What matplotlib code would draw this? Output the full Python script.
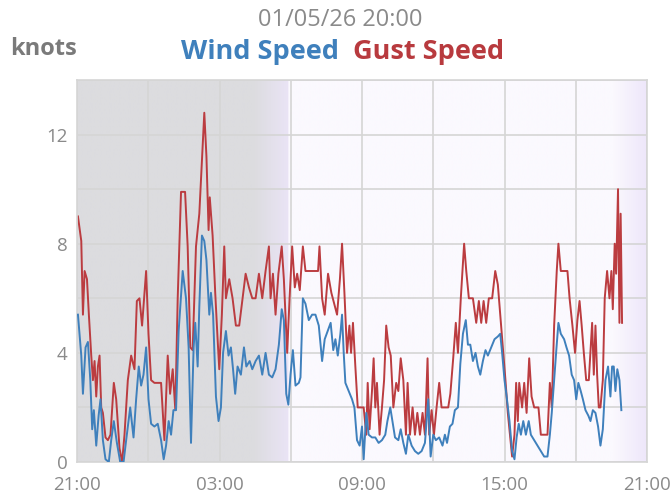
import matplotlib
matplotlib.use("Agg")
import matplotlib.pyplot as plt
import numpy as np
from matplotlib.colors import LinearSegmentedColormap

plt.rcParams['font.family'] = ['Open Sans', 'DejaVu Sans']

# hours since 21:00
gust_t = [0.04, 0.18, 0.25, 0.32, 0.42, 0.50, 0.60, 0.67, 0.74, 0.81, 0.88, 0.95, 1.02, 1.09, 1.20,
          1.30, 1.41, 1.55, 1.65, 1.79, 1.90, 2.00, 2.14, 2.28, 2.42, 2.52, 2.63, 2.74, 2.91, 3.01,
          3.12, 3.26, 3.40, 3.54, 3.68, 3.82, 3.92, 4.03, 4.14, 4.24, 4.38, 4.55, 4.66, 4.77, 4.87,
          5.01, 5.15, 5.26, 5.36, 5.45, 5.54, 5.59, 5.71, 5.82, 5.92, 5.99, 6.10, 6.20, 6.27, 6.41,
          6.55, 6.69, 6.83, 6.97, 7.10, 7.24, 7.38, 7.52, 7.66, 7.80, 7.94, 8.08, 8.15, 8.25, 8.36,
          8.48, 8.62, 8.71, 8.85, 8.95, 9.06, 9.17, 9.27, 9.38, 9.51, 9.62, 9.90, 10.15, 10.21, 10.32,
          10.43, 10.57, 10.71,
          10.95, 11.07, 11.16, 11.26, 11.37, 11.47, 11.54, 11.62, 11.72, 11.82, 11.93, 12.07, 12.18,
          12.24, 12.32, 12.42, 12.49, 12.56, 12.63, 12.74, 12.84, 12.93, 13.02, 13.12, 13.21, 13.32,
          13.44, 13.53, 13.63, 13.74, 13.85, 13.92, 14.02, 14.13, 14.23, 14.33, 14.44, 14.55, 14.65,
          14.76, 14.83, 14.93, 15.03, 15.14, 15.25, 15.35, 15.49, 15.63, 15.72, 15.84, 15.95, 16.04,
          16.16, 16.23, 16.30, 16.39, 16.50, 16.67, 16.81, 16.92, 17.02, 17.12, 17.23, 17.34, 17.48,
          17.61, 17.72, 17.82, 17.93, 18.04, 18.14, 18.23, 18.32, 18.42, 18.49, 18.56, 18.62, 18.74,
          18.83, 18.93, 19.04, 19.14, 19.25, 19.43, 19.53, 19.67, 19.81, 19.91, 19.99, 20.09, 20.20,
          20.27, 20.37, 20.51, 20.65, 20.74, 20.86, 20.97, 21.07, 21.16, 21.25, 21.34, 21.44, 21.55,
          21.69, 21.76, 21.83, 21.90, 21.97, 22.04, 22.14, 22.22, 22.32, 22.42, 22.50, 22.56, 22.64,
          22.70, 22.78, 22.84, 22.89, 22.95]
gust_v = [9.0, 8.1, 5.4, 7.0, 6.7, 5.4, 3.9, 3.0, 3.7, 2.4, 3.5, 3.9, 2.0, 1.8, 0.9,
          0.8, 1.0, 2.9, 2.3, 0.5, 0.0, 1.0, 3.0, 3.9, 3.4, 5.9, 6.0, 5.0, 7.0, 4.7,
          3.0, 2.9, 2.9, 2.9, 0.8, 3.9, 2.5, 3.4, 1.9, 6.0, 9.9, 9.9, 7.9, 4.2, 4.1,
          7.9, 9.1, 11.0, 12.8, 11.2, 8.5, 9.7, 8.3, 6.2, 4.5, 3.4, 5.4, 7.9, 6.0, 6.7,
          6.0, 5.0, 5.0, 6.0, 6.9, 6.4, 6.0, 6.0, 6.9, 6.0, 7.0, 7.9, 6.0, 6.9, 5.4,
          6.9, 7.9, 6.7, 4.0, 6.0, 7.9, 6.4, 6.9, 6.3, 7.9, 7.0, 7.0, 7.0, 7.9, 6.0,
          5.4, 6.9, 6.2,
          5.4, 6.7, 8.0, 6.2, 4.0, 5.0, 4.0, 5.1, 3.5, 2.0, 2.0, 2.0, 1.0,
          2.9, 1.2, 2.6, 3.8, 2.0, 2.9, 1.0, 2.0, 3.0, 5.0, 4.2, 3.9, 2.0,
          2.9, 2.6, 3.8, 3.0, 1.0, 2.9, 1.0, 2.0, 1.0, 1.8, 1.0, 1.8, 1.0,
          3.8, 1.0, 1.9, 1.0, 2.0, 2.9, 2.0, 2.0, 2.0, 2.5, 3.8, 5.1, 4.0,
          6.0, 7.0, 8.0, 7.0, 6.0, 6.0, 5.1, 5.9, 5.1, 5.9, 5.1, 6.0, 6.0,
          7.0, 6.5, 5.4, 4.2, 3.0, 1.8, 1.0, 0.2, 1.0, 2.9, 1.5, 2.9, 2.0,
          2.9, 1.8, 3.8, 2.4, 2.0, 2.0, 1.0, 1.0, 1.0, 2.9, 2.0, 5.0, 7.0,
          8.0, 7.0, 7.0, 7.0, 6.0, 5.0, 4.0, 5.2, 5.9, 5.0, 4.0, 3.0, 3.0,
          5.1, 3.2, 5.0, 3.2, 2.0, 2.0, 3.0, 6.0, 7.0, 6.0, 7.0, 5.6, 8.0,
          6.9, 10.0, 5.1, 9.1, 5.1]

wind_t = [0.04, 0.18, 0.25, 0.36, 0.46, 0.56, 0.64, 0.71, 0.81, 0.91, 0.99, 1.09, 1.20, 1.34, 1.44,
          1.55, 1.68, 1.82, 1.96, 2.07, 2.24, 2.38, 2.49, 2.60, 2.70, 2.80, 2.91, 3.01, 3.12, 3.26,
          3.40, 3.54, 3.65, 3.75, 3.86, 3.96, 4.06, 4.17, 4.28, 4.45, 4.59, 4.70, 4.80, 4.91, 4.98,
          5.08, 5.15, 5.26, 5.36, 5.45, 5.57, 5.64, 5.73, 5.85, 5.96, 6.06, 6.15, 6.27, 6.38, 6.48,
          6.57, 6.66, 6.76, 6.90, 7.03, 7.13, 7.27, 7.38, 7.52, 7.66, 7.80, 7.94, 8.08, 8.22, 8.36,
          8.50, 8.62, 8.71, 8.81, 8.90, 8.99, 9.09, 9.20, 9.34, 9.41, 9.51, 9.62, 9.76, 9.90, 10.04,
          10.18, 10.32, 10.43,
          10.68, 10.79, 10.88, 10.98, 11.09, 11.16, 11.23, 11.30, 11.44, 11.58, 11.68, 11.79, 11.90,
          12.00, 12.07, 12.18, 12.28, 12.42, 12.56, 12.70, 12.84, 12.98, 13.07, 13.19, 13.30, 13.39,
          13.53, 13.63, 13.74, 13.85, 13.95, 14.09, 14.23, 14.37, 14.51, 14.65, 14.79, 14.89, 15.00,
          15.11, 15.25, 15.39, 15.49, 15.58, 15.70, 15.81, 15.91, 16.04, 16.14, 16.25, 16.37, 16.46,
          16.56, 16.67, 16.78, 16.88, 16.98, 17.09, 17.20, 17.30, 17.44, 17.58, 17.72, 17.82, 17.90,
          18.00, 18.09, 18.21, 18.32, 18.42, 18.51, 18.60, 18.69, 18.79, 18.90, 19.02, 19.11, 19.25,
          19.39, 19.53, 19.67, 19.81, 19.91, 19.99, 20.09, 20.19, 20.27, 20.37, 20.51, 20.61, 20.72,
          20.83, 20.93, 21.02, 21.11, 21.21, 21.30, 21.41, 21.53, 21.62, 21.72, 21.83, 21.94, 22.04,
          22.14, 22.25, 22.36, 22.46, 22.53, 22.60, 22.67, 22.75, 22.84, 22.92]
wind_v = [5.4, 3.9, 2.5, 4.2, 4.4, 3.0, 1.2, 1.9, 0.6, 1.7, 2.3, 0.8, 0.1, 0.0, 0.8,
          1.5, 0.7, 0.0, 0.0, 0.8, 2.0, 0.9, 2.3, 3.5, 2.8, 3.2, 4.2, 2.3, 1.4, 1.3,
          1.4, 0.8, 0.1, 0.6, 1.5, 1.0, 1.9, 1.9, 4.8, 7.0, 6.0, 4.2, 0.7, 4.2, 5.1,
          3.5, 5.7, 8.3, 8.1, 7.4, 5.4, 6.2, 5.4, 2.4, 1.5, 2.0, 4.0, 4.8, 3.9, 4.2,
          3.4, 2.5, 3.5, 3.2, 4.2, 3.5, 3.7, 3.4, 3.7, 3.9, 3.2, 4.0, 3.2, 3.1, 3.4,
          4.3, 5.6, 5.2, 2.5, 2.1, 3.2, 4.1, 2.8, 2.9, 3.1, 6.0, 5.8, 5.2, 5.4, 5.4,
          5.0, 3.7, 4.5,
          5.1, 4.1, 4.5, 3.9, 4.7, 5.4, 4.0, 2.9, 2.6, 2.3, 2.0, 0.8, 0.6,
          1.3, 0.1, 1.8, 1.0, 0.9, 0.9, 0.7, 0.8, 1.0, 1.5, 2.0, 1.4, 0.9,
          0.8, 1.2, 0.7, 0.3, 1.0, 0.6, 0.4, 0.3, 0.4, 0.7, 2.3, 0.2, 1.0,
          0.8, 0.9, 0.6, 1.0, 0.7, 1.3, 1.4, 1.9, 2.0, 3.6, 4.7, 5.2, 4.3,
          4.3, 3.7, 4.0, 3.5, 3.2, 3.7, 4.1, 3.9, 4.2, 4.5, 4.6, 4.7, 4.0,
          3.0, 2.4, 1.5, 0.4, 0.1, 0.9, 1.4, 1.0, 1.5, 1.0, 1.5, 1.0, 0.8,
          0.6, 0.4, 0.2, 0.2, 1.0, 1.8, 3.0, 4.2, 5.1, 4.7, 4.5, 4.2, 3.9,
          3.2, 3.0, 2.3, 2.9, 2.6, 2.3, 1.9, 1.7, 1.5, 1.9, 1.8, 1.3, 0.6,
          1.2, 3.0, 3.5, 2.4, 3.5, 3.5, 2.6, 3.4, 3.0, 1.9]

x_ticks = [0, 6, 12, 18, 24]
x_labels = ['21:00', '03:00', '09:00', '15:00', '21:00']
y_ticks = [0, 4, 8, 12]

fig = plt.figure(figsize=(6.72, 4.99), dpi=100)
ax = fig.add_axes([77/672, 1 - 462/499, 570/672, 382/499])

# background: night / twilight / day shading
stops = [(0.0, '#dcdcdf'), (7.4/24, '#dcdcdf'), (8.9/24, '#eae4f6'),
         (8.93/24, '#fbf9fe'), (22.6/24, '#fbf9fe'), (1.0, '#eee7fa')]
cmap = LinearSegmentedColormap.from_list('bg', stops)
grad = np.linspace(0, 1, 1200).reshape(1, -1)
ax.imshow(grad, cmap=cmap, aspect='auto', extent=[0, 24, 0, 14], zorder=0,
          interpolation='bilinear')

ax.plot(wind_t, wind_v, color='#3f80bc', lw=1.4, zorder=3)
ax.plot(gust_t, gust_v, color='#bb3c40', lw=1.4, zorder=2)

ax.set_xlim(0, 24)
ax.set_ylim(0, 14)
ax.set_xticks(x_ticks)
ax.set_xticklabels(x_labels)
ax.set_xticks([3, 9, 15, 21], minor=True)
ax.set_yticks(y_ticks)
ax.set_yticks([2, 6, 10, 14], minor=True)
ax.grid(which='both', color='#d5d5d5', lw=1.2)
ax.set_axisbelow(True)
ax.tick_params(which='both', length=0, labelsize=13.5, colors='#8a8a8a')
ax.tick_params(axis='x', pad=10)
ax.tick_params(axis='y', pad=7)
for s in ax.spines.values():
    s.set_color('#d5d5d5')
    s.set_linewidth(1.2)

fig.text(340/672, 1 - 20/499, '01/05/26 20:00', ha='center', va='center',
         fontsize=17, color='#8a8a8a')
fig.text(339/672, 1 - 59/499, 'Wind Speed', ha='right', va='baseline',
         fontsize=19.5, fontweight='bold', color='#3f80bc')
fig.text(353/672, 1 - 59/499, 'Gust Speed', ha='left', va='baseline',
         fontsize=19.5, fontweight='bold', color='#b83a3e')
fig.text(10/672, 1 - 49/499, 'knots', ha='left', va='center',
         fontsize=17, fontweight='bold', color='#7a7a7a')

fig.savefig('out.png', dpi=100)
